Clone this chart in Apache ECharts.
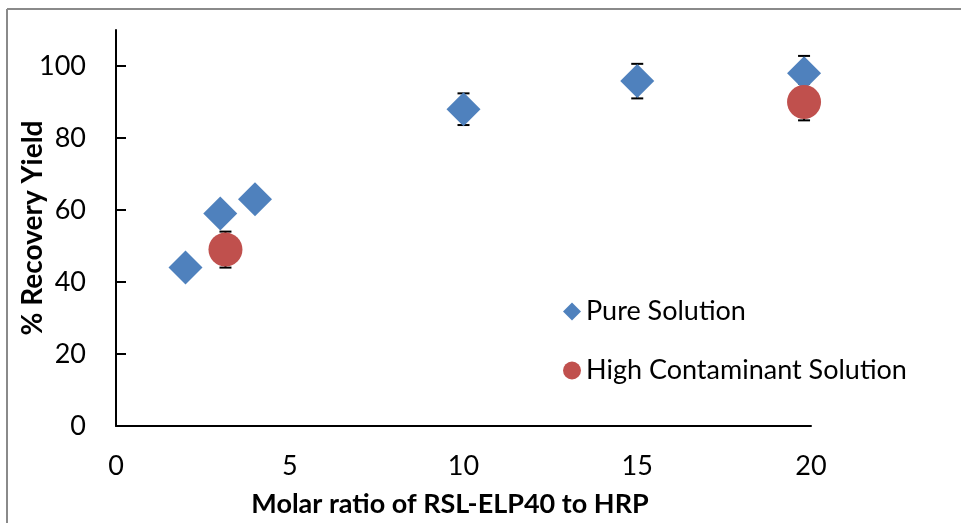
<!DOCTYPE html>
<html>
<head>
<meta charset="utf-8">
<script src="https://cdn.jsdelivr.net/npm/echarts@6/dist/echarts.min.js"></script>
<style>
  html, body { margin: 0; padding: 0; background: #fff; }
  #chart { width: 961px; height: 523px; }
</style>
</head>
<body>
<div id="chart"></div>
<script>
// Molar ratio (x) and recovery yield (%) with symmetric error
const pureRatio = [2, 3, 4, 10, 15, 19.8];
const pureYield = [44, 59, 63, 88, 95.8, 98];
const pureErr = [0, 0, 0, 4.4, 4.8, 4.8];

const contamRatio = [3.15, 19.8];
const contamYield = [49, 90];
const contamErr = [5, 5.1];

const yTicks = [0, 20, 40, 60, 80, 100];
const xTicks = [0, 5, 10, 15, 20];

const FONT = 'Lato';
const BLUE = '#4f81bd';
const RED = '#c0504d';

function points(xs, ys) {
  return xs.map((x, i) => [x, ys[i]]);
}
function errRows(xs, ys, es) {
  return xs.map((x, i) => [x, ys[i] - es[i], ys[i] + es[i]]).filter((r, i) => es[i] > 0);
}

// Error bar renderer: vertical whisker with horizontal caps
function renderErr(params, api) {
  const x = api.value(0);
  const lo = api.coord([x, api.value(1)]);
  const hi = api.coord([x, api.value(2)]);
  const half = 6;
  const style = { stroke: '#000', lineWidth: 2 };
  return {
    type: 'group',
    children: [
      { type: 'line', shape: { x1: lo[0], y1: lo[1], x2: hi[0], y2: hi[1] }, style },
      { type: 'line', shape: { x1: lo[0] - half, y1: lo[1], x2: lo[0] + half, y2: lo[1] }, style },
      { type: 'line', shape: { x1: hi[0] - half, y1: hi[1], x2: hi[0] + half, y2: hi[1] }, style }
    ]
  };
}

const chart = echarts.init(document.getElementById('chart'), null, { renderer: 'canvas' });

chart.setOption({
  backgroundColor: '#fff',
  animation: false,
  grid: { left: 116, top: 30, right: 150, bottom: 96 },
  legend: {
    orient: 'vertical',
    left: 558,
    top: 293,
    itemGap: 32,
    itemWidth: 18,
    itemHeight: 18,
    textStyle: { fontFamily: FONT, fontSize: 27, color: '#000' },
    data: [
      { name: 'Pure Solution', icon: 'diamond', itemStyle: { color: BLUE } },
      { name: 'High Contaminant Solution', icon: 'circle', itemStyle: { color: RED } }
    ]
  },
  xAxis: {
    type: 'value',
    min: 0,
    max: 20,
    interval: 5,
    name: 'Molar ratio of RSL-ELP40 to HRP',
    nameLocation: 'middle',
    nameMoveOverlap: false,
    nameGap: 65,
    nameTextStyle: { fontFamily: FONT, fontSize: 27, fontWeight: 'bold', color: '#000', padding: [0, 27, 0, 0] },
    axisLine: { show: true, onZero: false, lineStyle: { color: '#000', width: 2 } },
    axisTick: { show: false },
    axisLabel: { fontFamily: FONT, fontSize: 27, color: '#000', margin: 27, customValues: xTicks },
    splitLine: { show: false }
  },
  yAxis: {
    type: 'value',
    min: 0,
    max: 110,
    interval: 20,
    name: '% Recovery Yield',
    nameLocation: 'middle',
    nameMoveOverlap: false,
    nameGap: 69,
    nameTextStyle: { fontFamily: FONT, fontSize: 28, fontWeight: 'bold', color: '#000' },
    axisLine: { show: true, lineStyle: { color: '#000', width: 2 } },
    axisTick: { show: true, inside: true, length: 10, lineStyle: { color: '#000', width: 2 }, customValues: yTicks },
    axisLabel: { fontFamily: FONT, fontSize: 27, color: '#000', margin: 30, customValues: yTicks },
    splitLine: { show: false }
  },
  graphic: [
    { type: 'line', shape: { x1: 7, y1: 9, x2: 961, y2: 9 }, style: { stroke: '#8a8a8a', lineWidth: 2 }, silent: true },
    { type: 'line', shape: { x1: 7, y1: 9, x2: 7, y2: 523 }, style: { stroke: '#8a8a8a', lineWidth: 2 }, silent: true }
  ],
  series: [
    {
      name: 'Pure Solution',
      type: 'custom',
      renderItem: renderErr,
      itemStyle: { color: BLUE },
      data: errRows(pureRatio, pureYield, pureErr),
      encode: { x: 0, y: [1, 2] },
      z: 1,
      silent: true
    },
    {
      name: 'High Contaminant Solution',
      type: 'custom',
      renderItem: renderErr,
      itemStyle: { color: RED },
      data: errRows(contamRatio, contamYield, contamErr),
      encode: { x: 0, y: [1, 2] },
      z: 1,
      silent: true
    },
    {
      name: 'Pure Solution',
      type: 'scatter',
      symbol: 'diamond',
      symbolSize: 34,
      itemStyle: { color: BLUE, opacity: 1 },
      data: points(pureRatio, pureYield),
      z: 3
    },
    {
      name: 'High Contaminant Solution',
      type: 'scatter',
      symbol: 'circle',
      symbolSize: 34,
      itemStyle: { color: RED, opacity: 1 },
      data: points(contamRatio, contamYield),
      z: 4
    }
  ]
});
</script>
</body>
</html>
